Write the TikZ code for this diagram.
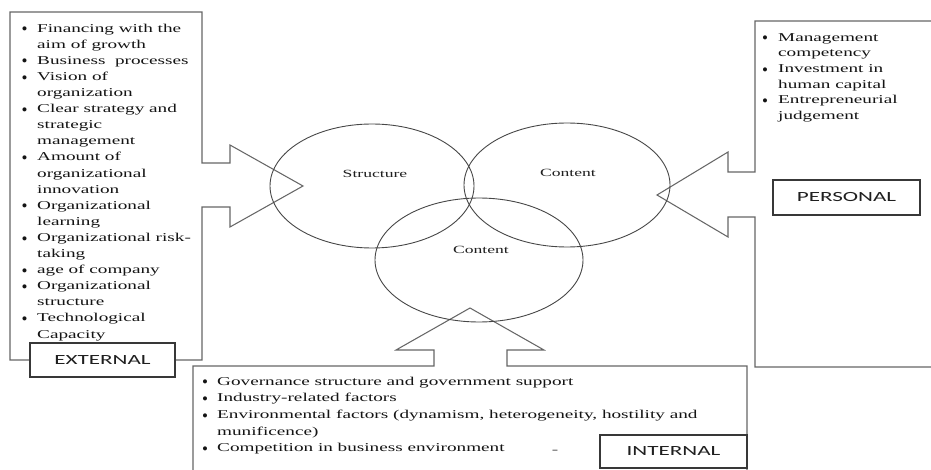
\documentclass[tikz,border=0pt]{standalone}
\usepackage{fontspec}
\setmainfont{Liberation Serif}[FakeStretch=1.6]
\newfontfamily\plainserif{Liberation Serif}
\newfontfamily\labelsans{Carlito}[FakeStretch=1.65]
\usetikzlibrary{shapes.geometric}

% bullet item and continuation line for the lists
\newcommand{\bulletdot}{\raisebox{-2.6pt}[0pt][0pt]{\plainserif\fontsize{17}{17}\selectfont\textbullet}}
\newcommand{\bi}[2][15.5pt]{\makebox[#1][l]{\bulletdot}#2\strut}
\newcommand{\ci}[2][15.5pt]{\hspace*{#1}#2\strut}

\tikzset{
  outline/.style={draw=black!60, line width=1.05pt, line join=miter},
  ring/.style={ellipse, draw=black!72, line width=0.9pt, inner sep=0pt},
  ringlabel/.style={font=\fontsize{11}{13}\selectfont, text=black!88, inner sep=0pt},
  listtext/.style={anchor=north west, align=left, inner sep=0pt, text=black!92},
  tag/.style={draw=black!78, line width=1.3pt, fill=white, inner sep=0pt,
    font=\labelsans\fontsize{14}{16}\selectfont, text=black!88},
}

\begin{document}
\begin{tikzpicture}[x=1pt, y=-1pt]
\useasboundingbox (0,0) rectangle (931,470);
\fill[white] (0,0) rectangle (931,470);

% left frame with its block arrow pointing right
\draw[outline] (10,12) -- (202,12) -- (202,163) -- (230,163) -- (230,145)
  -- (303,186) -- (230,227) -- (230,207) -- (202,207) -- (202,360)
  -- (10,360) -- cycle;

% right frame with its block arrow pointing left
\draw[outline] (931,21) -- (755,21) -- (755,172) -- (728,172) -- (728,152)
  -- (657,195) -- (728,237) -- (728,217) -- (755,217) -- (755,367) -- (931,367);

% bottom frame with its block arrow pointing up
\draw[outline] (193,470) -- (193,366) -- (434,366) -- (434,350) -- (396,350)
  -- (470,308) -- (544,350) -- (507,350) -- (507,366) -- (747,366) -- (747,470);

% the three overlapping rings
\node[ring, minimum width=204pt, minimum height=124pt] (structure) at (372,186) {};
\node[ring, minimum width=206pt, minimum height=124pt] (contenttop) at (567,185) {};
\node[ring, minimum width=208pt, minimum height=124pt] (contentlow) at (479,260) {};

\node[ringlabel] (structurelbl) at (375,174) {Structure};
\node[ringlabel] (contenttoplbl) at (568,173) {Content};
\node[ringlabel] (contentlowlbl) at (481,250) {Content};

% lists
\node[listtext, font=\fontsize{12}{16.1}\selectfont] (extlist) at (21.5,20.7) {%
  \bi{Financing with the}\\ \ci{aim of growth}\\ \bi{Business\ \ processes}\\
  \bi{Vision of}\\ \ci{organization}\\ \bi{Clear strategy and}\\ \ci{strategic}\\
  \ci{management}\\ \bi{Amount of}\\ \ci{organizational}\\ \ci{innovation}\\
  \bi{Organizational}\\ \ci{learning}\\ \bi{Organizational risk-}\\ \ci{taking}\\
  \bi{age of company}\\ \bi{Organizational}\\ \ci{structure}\\
  \bi{Technological}\\ \ci{Capacity}};

\node[listtext, font=\fontsize{12}{15.6}\selectfont] (perlist) at (762,30.1) {%
  \bi[16pt]{Management}\\ \ci[16pt]{competency}\\ \bi[16pt]{Investment in}\\
  \ci[16pt]{human capital}\\ \bi[16pt]{Entrepreneurial}\\ \ci[16pt]{judgement}};

\node[listtext, font=\fontsize{12}{16.7}\selectfont] (intlist) at (202,373.3) {%
  \bi[15pt]{Governance structure and government support}\\
  \bi[15pt]{Industry-related factors}\\
  \bi[15pt]{Environmental factors (dynamism, heterogeneity, hostility and}\\
  \ci[15pt]{munificence)}\\
  \bi[15pt]{Competition in business environment}};

\node[font=\fontsize{12}{14}\selectfont, text=black!70, inner sep=0pt] (dash) at (555,452) {-};

% tags
\node[tag, minimum width=145pt, minimum height=34pt] (external) at (102.5,360) {EXTERNAL};
\node[tag, minimum width=147pt, minimum height=35pt] (personal) at (846.5,197.5) {PERSONAL};
\node[tag, minimum width=147pt, minimum height=33pt] (internal) at (673.5,451.5) {INTERNAL};
\end{tikzpicture}
\end{document}
